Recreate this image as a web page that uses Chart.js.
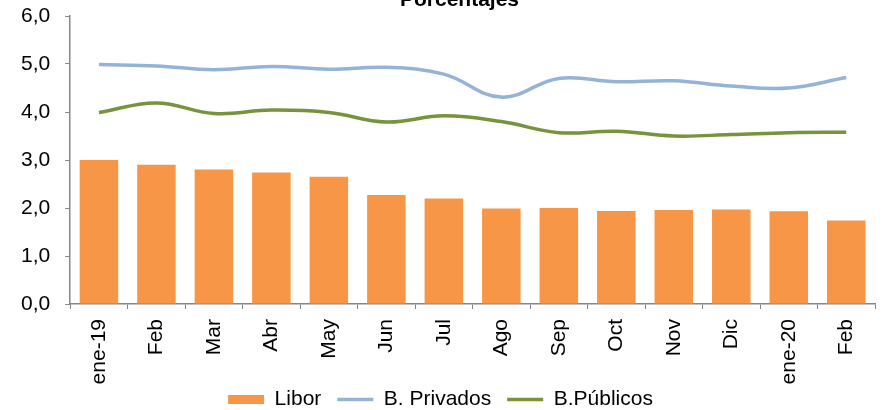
<!DOCTYPE html>
<html>
<head>
<meta charset="utf-8">
<script src="https://cdn.jsdelivr.net/npm/chart.js@4/dist/chart.umd.min.js"></script>
<style>
  body { margin: 0; background: #fff; }
  canvas { display: block; }
</style>
</head>
<body>
<canvas id="tasas" width="885" height="410"></canvas>
<script>
var meses = ["ene-19", "Feb", "Mar", "Abr", "May", "Jun", "Jul", "Ago", "Sep", "Oct", "Nov", "Dic", "ene-20", "Feb"];
var libor = [3.00, 2.90, 2.80, 2.74, 2.65, 2.27, 2.20, 1.99, 2.00, 1.94, 1.96, 1.97, 1.93, 1.74];
var privados = [4.99, 4.96, 4.88, 4.95, 4.89, 4.93, 4.79, 4.31, 4.70, 4.63, 4.65, 4.54, 4.50, 4.72];
var publicos = [3.99, 4.19, 3.97, 4.04, 3.99, 3.79, 3.92, 3.80, 3.57, 3.60, 3.50, 3.53, 3.57, 3.58];
var titulo = 'Porcentajes';

var fuente = "'Liberation Sans', Arial, sans-serif";
var gris = "#868686";

// titulo recortado arriba, dibujado a mano
var tituloPlugin = {
    id: 'tituloArriba',
    afterDraw: function (chart) {
    var c = chart.ctx;
    c.save();
    c.font = "bold 21px " + fuente;
    c.fillStyle = '#000';
    c.textAlign = 'center';
    c.textBaseline = 'alphabetic';
    c.fillText(titulo, chart.width / 2 + 17, 6);
    c.restore();
    }
};

// que las etiquetas del eje x no se recorten al invadir la leyenda
var sinRecorte = {
    id: 'sinRecorte',
    afterLayout: function (chart) {
    chart.scales.x.bottom = chart.height;
    }
};

var ctx = document.getElementById("tasas");
var myChart = new Chart(ctx, {
type: 'bar',
data: {
    labels: meses,
    datasets: [{
    label: 'Libor',
    data: libor,
    backgroundColor: "#F79646",
    borderWidth: 0,
    pointStyle: 'rect',
    barPercentage: 1,
    categoryPercentage: 0.67
    }, {
    type: 'line',
    label: 'B. Privados',
    data: privados,
    borderColor: "#95B3D7",
    backgroundColor: "#95B3D7",
    borderWidth: 3.5,
    pointRadius: 0,
    pointStyle: 'line',
    tension: 0.4
    }, {
    type: 'line',
    label: 'B.Públicos',
    data: publicos,
    borderColor: "#77933C",
    backgroundColor: "#77933C",
    borderWidth: 3.5,
    pointRadius: 0,
    pointStyle: 'line',
    tension: 0.4
    }]
},
plugins: [tituloPlugin, sinRecorte],
options: {
    responsive: false,
    animation: false,
    layout: {
    padding: { top: 0, left: 6, right: 10, bottom: -10 }
    },
    plugins: {
    title: { display: false },
    legend: {
        display: true,
        position: 'bottom',
        labels: {
        color: '#000',
        font: { family: fuente, size: 21 },
        usePointStyle: true,
        pointStyleWidth: 36,
        boxHeight: 9,
        padding: 16
        }
    },
    tooltip: { enabled: false }
    },
    scales: {
    x: {
        grid: { display: true, drawOnChartArea: false, color: gris, tickLength: 5 },
        border: { color: gris, width: 1.5 },
        ticks: {
        color: '#000',
        font: { family: fuente, size: 21 },
        minRotation: 90,
        maxRotation: 90,
        padding: 10
        },
        afterFit: function (scale) { scale.height = 69; }
    },
    y: {
        min: 0,
        max: 6,
        grid: { display: true, drawOnChartArea: false, color: gris, tickLength: 5 },
        border: { color: gris, width: 1.5 },
        ticks: {
        stepSize: 1,
        color: '#000',
        font: { family: fuente, size: 21 },
        padding: 15,
        callback: function (v) { return v.toFixed(1).replace('.', ','); }
        },
        // el 6,0 queda casi pegado al borde superior
        afterFit: function (scale) { scale.paddingTop = 16; }
    }
    }
}
});
</script>
</body>
</html>
